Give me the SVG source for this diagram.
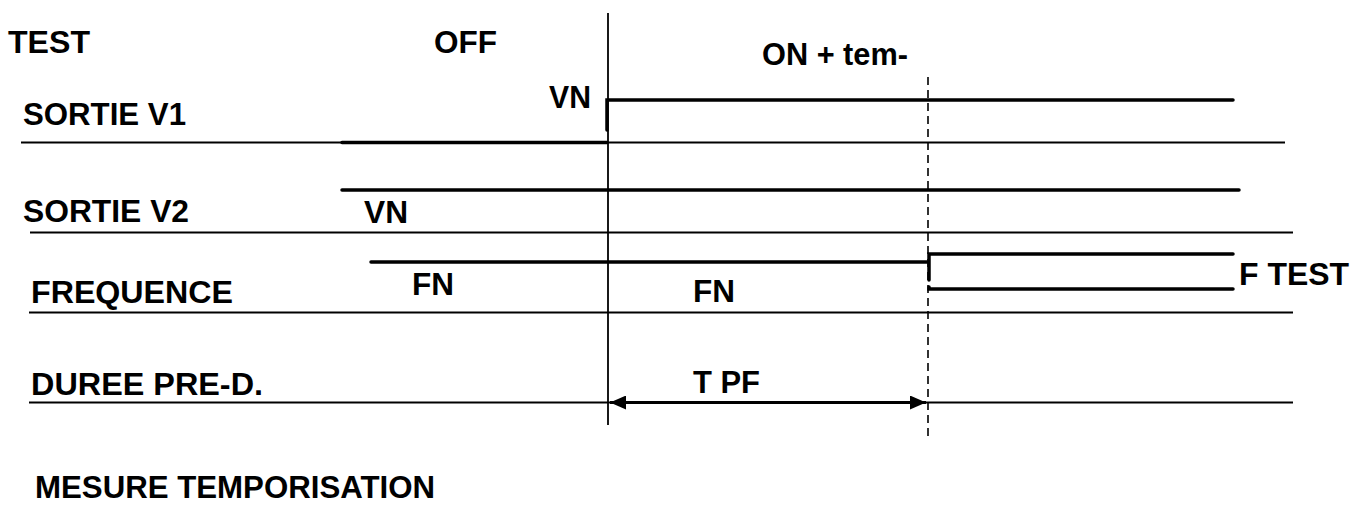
<svg xmlns="http://www.w3.org/2000/svg" width="1365" height="506" viewBox="0 0 1365 506">
<style>
text{font-family:"Liberation Sans",Arial,sans-serif;font-weight:bold;font-size:32px;fill:#000}
.thin{stroke:#000;stroke-width:1.8;fill:none}
.thick{stroke:#000;stroke-width:3.5;fill:none;stroke-linecap:round}
.dash{stroke:#000;stroke-width:1.6;stroke-dasharray:8 5;fill:none}
</style>
<defs>
<marker id="ah" viewBox="0 0 16 14" refX="16" refY="7" markerWidth="16" markerHeight="14" markerUnits="userSpaceOnUse" orient="auto-start-reverse">
<path d="M0,0 L16,7 L0,14 Z" fill="#000"/>
</marker>
</defs>
<rect width="1365" height="506" fill="#fff"/>
<g id="labels">
<text x="8" y="53" textLength="82" lengthAdjust="spacingAndGlyphs">TEST</text>
<text x="434" y="53" textLength="63" lengthAdjust="spacingAndGlyphs">OFF</text>
<text x="762" y="65" textLength="146" lengthAdjust="spacingAndGlyphs">ON + tem-</text>
<text x="23" y="125" textLength="163" lengthAdjust="spacingAndGlyphs">SORTIE V1</text>
<text x="549" y="108" textLength="42" lengthAdjust="spacingAndGlyphs">VN</text>
<text x="23" y="222" textLength="166" lengthAdjust="spacingAndGlyphs">SORTIE V2</text>
<text x="364" y="223" textLength="44" lengthAdjust="spacingAndGlyphs">VN</text>
<text x="31" y="303" textLength="202" lengthAdjust="spacingAndGlyphs">FREQUENCE</text>
<text x="412" y="295" textLength="42" lengthAdjust="spacingAndGlyphs">FN</text>
<text x="693" y="302" textLength="42" lengthAdjust="spacingAndGlyphs">FN</text>
<text x="1239" y="285" textLength="110" lengthAdjust="spacingAndGlyphs">F TEST</text>
<text x="31" y="395" textLength="232" lengthAdjust="spacingAndGlyphs">DUREE PRE-D.</text>
<text x="693" y="393" textLength="67" lengthAdjust="spacingAndGlyphs">T PF</text>
<text x="35" y="498" textLength="400" lengthAdjust="spacingAndGlyphs">MESURE TEMPORISATION</text>
</g>
<g id="connectors">
<line class="thin" x1="21" y1="142.5" x2="1285" y2="142.5"/>
<line class="thin" x1="30" y1="232.5" x2="1293" y2="232.5"/>
<line class="thin" x1="29" y1="312.5" x2="1293" y2="312.5"/>
<line class="thin" x1="29" y1="402.5" x2="1293" y2="402.5"/>
<line class="thin" x1="608" y1="13" x2="608" y2="425"/>
<line class="dash" x1="928" y1="77" x2="928" y2="436"/>
<path class="thick" d="M342,142.5 L607,142.5"/>
<path class="thick" d="M607,130 L607,100 L1233,100"/>
<path class="thick" d="M342,190 L1239,190"/>
<path class="thick" d="M371,262 L927,262"/>
<path class="thick" d="M929,280 L929,254 L1233,254"/>
<path class="thick" d="M929,287 L929,289 L1233,289"/>
<line stroke="#000" stroke-width="2.8" x1="610" y1="402.5" x2="926" y2="402.5" marker-start="url(#ah)" marker-end="url(#ah)"/>
</g>
</svg>
